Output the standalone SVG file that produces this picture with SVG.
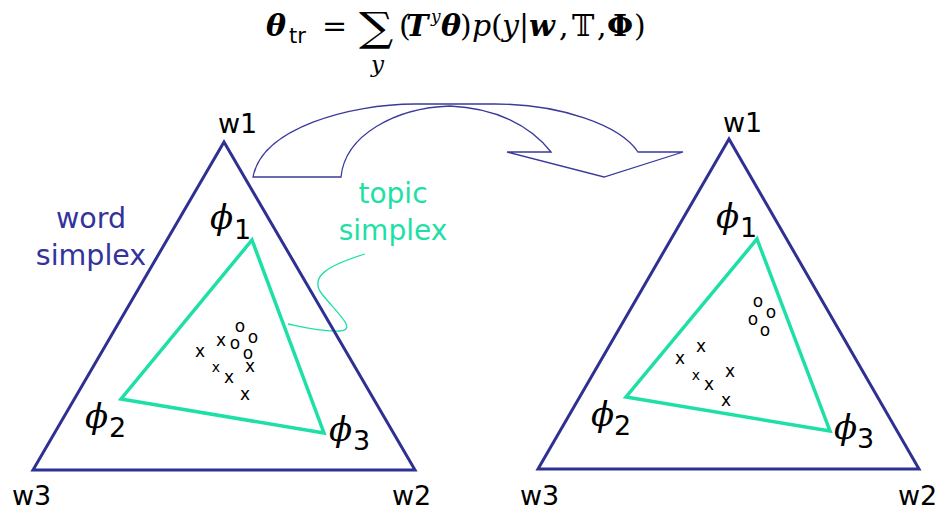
<svg xmlns="http://www.w3.org/2000/svg" width="938" height="510" viewBox="0 0 938 510">
<style>
.wsx{fill:none;stroke:#2e3192;stroke-width:3;stroke-linejoin:miter}
.tsx{fill:none;stroke:#1ee0a6;stroke-width:3.5;stroke-linejoin:miter}
.lbl{font-family:"DejaVu Sans",Verdana,sans-serif;font-size:27px;fill:#000}
.phi{font-family:"DejaVu Serif",serif;font-style:italic;font-size:34px;fill:#000}
.sub{font-family:"DejaVu Sans",sans-serif;font-size:27px;fill:#000}
.pt{font-family:"DejaVu Sans",sans-serif;font-size:17px;fill:#000;text-anchor:middle}
.pts{font-family:"DejaVu Sans",sans-serif;font-size:14px;fill:#000;text-anchor:middle}
.navy{font-family:"DejaVu Sans",sans-serif;font-size:28.5px;fill:#33339a;text-anchor:middle}
.teal{font-family:"DejaVu Sans",sans-serif;font-size:28px;fill:#1ee0a6;text-anchor:middle}
.m{font-family:"DejaVu Serif","Liberation Serif",serif;font-size:30px;fill:#000}
.bi{font-weight:bold;font-style:italic}
.it{font-style:italic}
</style>
<g id="formula">
<text class="m bi" x="266" y="36">θ</text>
<text x="289" y="43" style="font-family:'DejaVu Sans',sans-serif;font-size:21px">tr</text>
<text class="m" x="322" y="36">=</text>
<text class="m" transform="translate(359,41) scale(1.2,1)" style="font-size:40px">∑</text>
<text class="m it" x="371" y="72" style="font-size:23px">y</text>
<text class="m" x="399" y="36">(</text>
<text class="m bi" x="406" y="36">T</text>
<text class="m it" x="431" y="22" style="font-size:17px">y</text>
<text class="m bi" x="441" y="36">θ</text>
<text class="m" x="460" y="36">)</text>
<text class="m it" x="472" y="36">p</text>
<text class="m" x="491" y="36">(</text>
<text class="m it" x="502" y="36">y</text>
<text class="m" x="519" y="36">|</text>
<text class="m bi" x="529" y="36">w</text>
<text class="m" x="559" y="36">,</text>
<text class="m" x="572" y="36">𝕋</text>
<text class="m" x="597" y="36">,</text>
<text class="m" x="607" y="36" style="font-weight:bold">Φ</text>
<text class="m" x="634" y="36">)</text>
</g>
<g id="connectors">
<path id="arrow" d="M253,177 C262,128 350,104 415,104 L495,104 C560,104 620,125 638,152 L683,152 L604,177 L507,152 L551,152 C530,125 495,108 450,106 C395,108 345,135 341,177 Z" fill="#fff" stroke="#3a3a9c" stroke-width="1.3" stroke-linejoin="miter"/>
<path id="topic-pointer" d="M365,254 C330,265 308,276 322,294 C336,312 358,330 340,331 C320,332 302,327 288,324" fill="none" stroke="#1ee0a6" stroke-width="1.3"/>
</g>
<g id="left-simplex">
<polygon class="wsx" points="224,142 415,470 33,470"/>
<polygon class="tsx" points="252,240 324,433 121,399"/>
<text class="lbl" x="218" y="133">w1</text>
<text class="lbl" x="12" y="505">w3</text>
<text class="lbl" x="392" y="505">w2</text>
<text class="phi" x="210" y="229">ϕ</text><text class="sub" x="234" y="239">1</text>
<text class="phi" x="85" y="428">ϕ</text><text class="sub" x="109" y="437">2</text>
<text class="phi" x="329" y="441">ϕ</text><text class="sub" x="353" y="450">3</text>
<text class="pt" x="200" y="357">x</text>
<text class="pt" x="221" y="346">x</text>
<text class="pts" x="216" y="372">x</text>
<text class="pt" x="229" y="383">x</text>
<text class="pt" x="250" y="372">x</text>
<text class="pt" x="245" y="400">x</text>
<text class="pt" x="240" y="332">o</text>
<text class="pt" x="235" y="349">o</text>
<text class="pt" x="253" y="343">o</text>
<text class="pt" x="248" y="359">o</text>
</g>
<g id="word-simplex-label">
<text class="navy" x="91" y="228">word</text>
<text class="navy" x="91" y="265">simplex</text>
</g>
<g id="topic-simplex-label">
<text class="teal" x="393" y="203">topic</text>
<text class="teal" x="393" y="240">simplex</text>
</g>
<g id="right-simplex">
<polygon class="wsx" points="729,139 919,469 538,469"/>
<polygon class="tsx" points="757,239 830,431 626,397"/>
<text class="lbl" x="723" y="132">w1</text>
<text class="lbl" x="520" y="505">w3</text>
<text class="lbl" x="898" y="505">w2</text>
<text class="phi" x="716" y="228">ϕ</text><text class="sub" x="740" y="237">1</text>
<text class="phi" x="591" y="426">ϕ</text><text class="sub" x="614" y="435">2</text>
<text class="phi" x="834" y="439">ϕ</text><text class="sub" x="857" y="448">3</text>
<text class="pt" x="758" y="307">o</text>
<text class="pt" x="771" y="318">o</text>
<text class="pt" x="753" y="325">o</text>
<text class="pt" x="765" y="336">o</text>
<text class="pt" x="701" y="352">x</text>
<text class="pt" x="680" y="364">x</text>
<text class="pts" x="696" y="380">x</text>
<text class="pt" x="709" y="390">x</text>
<text class="pt" x="730" y="377">x</text>
<text class="pt" x="726" y="406">x</text>
</g>
</svg>
